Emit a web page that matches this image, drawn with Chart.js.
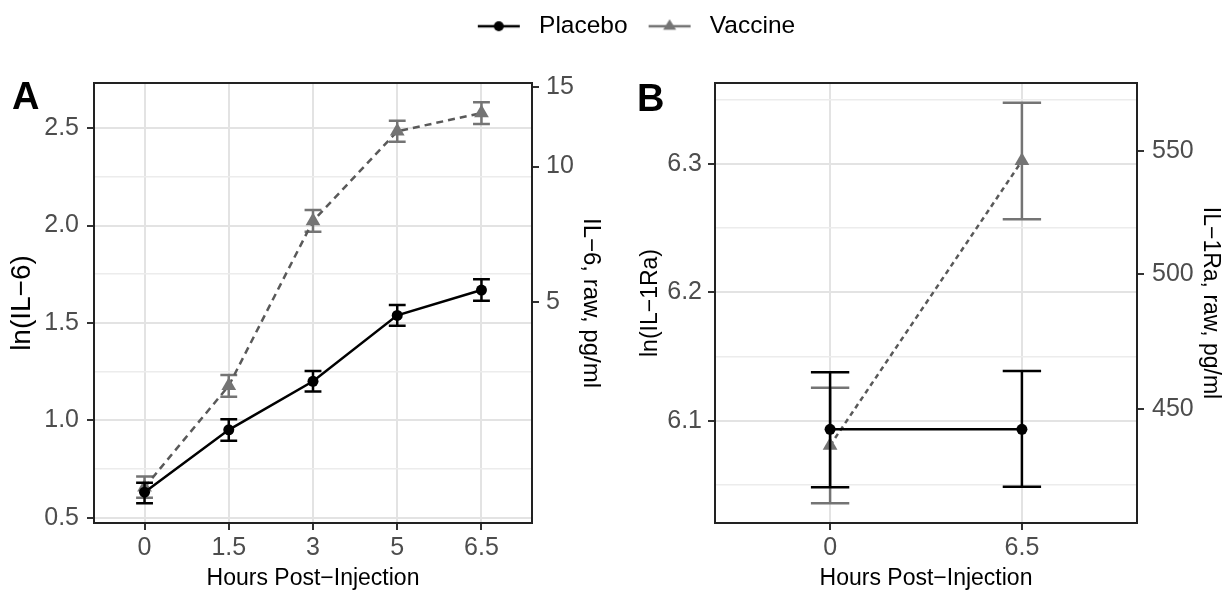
<!DOCTYPE html>
<html>
<head>
<meta charset="utf-8">
<script src="https://cdn.jsdelivr.net/npm/chart.js@4/dist/chart.umd.min.js"></script>
<style>
html,body{margin:0;padding:0;background:#fff;width:1225px;height:590px;overflow:hidden;position:relative;font-family:"Liberation Sans",Arial,sans-serif;}
#wa{position:absolute;left:0;top:0;width:1266px;height:590px;}
#wb{position:absolute;left:620px;top:0;width:605px;height:590px;}
.tag{position:absolute;font-weight:bold;font-size:38px;line-height:38px;color:#000;}
</style>
</head>
<body>
<div id="wa"><canvas id="ca" width="1266" height="590"></canvas></div>
<div id="wb"><canvas id="cb" width="605" height="590"></canvas></div>
<div class="tag" style="left:12px;top:77px">A</div>
<div class="tag" style="left:637px;top:79px">B</div>
<script>
// ---------------- data ----------------
const seriesNames = ['Placebo', 'Vaccine'];

const hoursA = ['0', '1.5', '3', '5', '6.5'];
const placeboA    = [0.632, 0.952, 1.201, 1.539, 1.669];
const placeboA_lo = [0.575, 0.896, 1.148, 1.486, 1.614];
const placeboA_hi = [0.681, 1.006, 1.254, 1.592, 1.724];
const vaccineA    = [0.657, 1.178, 2.023, 2.483, 2.577];
const vaccineA_lo = [0.603, 1.122, 1.968, 2.430, 2.521];
const vaccineA_hi = [0.713, 1.233, 2.079, 2.537, 2.632];

const hoursB = ['0', '6.5'];
const placeboB    = [6.0935, 6.0935];
const placeboB_lo = [6.0484, 6.0489];
const placeboB_hi = [6.1379, 6.1389];
const vaccineB    = [6.0809, 6.3024];
const vaccineB_lo = [6.0359, 6.2570];
const vaccineB_hi = [6.1259, 6.3477];

const yMajorA = [0.5, 1.0, 1.5, 2.0, 2.5];
const yMinorA = [0.75, 1.25, 1.75, 2.25];
const rawTicksA = [5, 10, 15];
const yMajorB = [6.1, 6.2, 6.3];
const yMinorB = [6.05, 6.15, 6.25, 6.35];
const rawTicksB = [450, 500, 550];

// ---------------- styling ----------------
const FONT = '"Liberation Sans", Arial, sans-serif';
Chart.defaults.font.family = FONT;
const GRID = '#E3E3E3', GRIDMINOR = '#ECECEC', TICKC = '#333333', LABC = '#4D4D4D';
const BLACK = '#000000', GRAY = '#747474', GRAYLINE = '#595959';

function pts(vals) { return vals.map((v, i) => ({x: i, y: v})); }
function errPts(lo, hi, half) {
  const out = [];
  lo.forEach((l, i) => {
    const h = hi[i];
    out.push({x: i - half, y: h}, {x: i + half, y: h}, {x: i, y: null},
             {x: i, y: h}, {x: i, y: l}, {x: i, y: null},
             {x: i - half, y: l}, {x: i + half, y: l}, {x: i, y: null});
  });
  return out;
}

function legendKey(kind) {
  const c = document.createElement('canvas');
  c.width = 56; c.height = 24;
  const g = c.getContext('2d');
  g.lineWidth = 2.5;
  g.strokeStyle = kind === 0 ? BLACK : GRAY;
  g.beginPath(); g.moveTo(7, 12); g.lineTo(49, 12); g.stroke();
  g.fillStyle = kind === 0 ? BLACK : GRAY;
  g.beginPath();
  if (kind === 0) { g.arc(28, 12, 5, 0, Math.PI * 2); }
  else { g.moveTo(28, 5); g.lineTo(34.5, 15.5); g.lineTo(21.5, 15.5); g.closePath(); }
  g.fill();
  return c;
}
const keys = [legendKey(0), legendKey(1)];

const panelBorder = {
  id: 'panelBorder',
  afterDatasetsDraw(chart) {
    const {ctx, chartArea: a} = chart;
    ctx.save();
    ctx.strokeStyle = '#222';
    ctx.lineWidth = 2;
    ctx.strokeRect(a.left, a.top, a.right - a.left, a.bottom - a.top);
    ctx.restore();
  }
};
const legendSpace = {
  id: 'legendSpace',
  beforeInit(chart) {
    const orig = chart.legend.fit;
    chart.legend.fit = function () { orig.call(this); this.height = 83; };
  }
};

function panel(cfg) {
  const majors = cfg.yMajor;
  const yTicks = cfg.yMajor.concat(cfg.yMinor).sort((a, b) => a - b);
  const isMajor = v => majors.some(m => Math.abs(m - v) < 1e-9);
  return {
    type: 'scatter',
    data: {
      datasets: [
        {label: seriesNames[0], data: pts(cfg.placebo), showLine: true, borderColor: BLACK, borderWidth: 2.5,
         pointStyle: 'circle', pointRadius: 5.5, pointBackgroundColor: BLACK, pointBorderWidth: 0},
        {label: 'errP', data: errPts(cfg.placeboLo, cfg.placeboHi, 0.1), showLine: true, borderColor: BLACK,
         borderWidth: 2.5, pointRadius: 0},
        {label: seriesNames[1], data: pts(cfg.vaccine), showLine: true, borderColor: GRAYLINE, borderWidth: 2.5,
         borderDash: cfg.dash, pointStyle: 'triangle', pointRadius: 8.5, pointBackgroundColor: GRAY, pointBorderWidth: 0},
        {label: 'errV', data: errPts(cfg.vaccineLo, cfg.vaccineHi, 0.1), showLine: true, borderColor: GRAY,
         borderWidth: 2.5, pointRadius: 0}
      ]
    },
    options: {
      responsive: false,
      devicePixelRatio: 1,
      animation: false,
      events: [],
      layout: {padding: cfg.padding},
      plugins: {
        tooltip: {enabled: false},
        legend: {
          display: cfg.legend,
          position: 'top',
          labels: {
            usePointStyle: true,
            pointStyleWidth: 56,
            padding: 14,
            color: '#000',
            font: {size: 24.5},
            generateLabels: () => seriesNames.map((n, i) => ({
              text: n, pointStyle: keys[i], datasetIndex: i * 2, hidden: false,
              fontColor: '#000', lineWidth: 0, strokeStyle: 'rgba(0,0,0,0)', fillStyle: 'rgba(0,0,0,0)'
            }))
          }
        }
      },
      scales: {
        x: {
          type: 'linear', position: 'bottom', min: -0.6, max: cfg.hours.length - 0.4,
          afterBuildTicks: s => { s.ticks = cfg.hours.map((h, i) => ({value: i})); },
          afterFit: s => { s.height = 67; },
          ticks: {callback: (v, i) => cfg.hours[i], color: LABC, font: {size: 25}, padding: 3, autoSkip: false, maxRotation: 0},
          grid: {color: GRID, lineWidth: 2, tickColor: TICKC, tickLength: 7, tickWidth: 2},
          border: {display: false},
          title: {display: true, text: 'Hours Post−Injection', color: '#000', font: {size: 23, lineHeight: 1}, padding: {top: 0, bottom: 0}}
        },
        y: {
          type: 'linear', position: 'left', min: cfg.yMin, max: cfg.yMax,
          afterBuildTicks: s => { s.ticks = yTicks.map(v => ({value: v})); },
          afterFit: s => { s.width = cfg.leftW; },
          ticks: {callback: v => isMajor(v) ? v.toFixed(1) : '', color: LABC, font: {size: 25}, padding: cfg.leftPad, autoSkip: false},
          grid: {
            color: c => (c.tick && !isMajor(c.tick.value)) ? GRIDMINOR : GRID,
            lineWidth: c => (c.tick && !isMajor(c.tick.value)) ? 1.5 : 2,
            tickColor: c => (c.tick && !isMajor(c.tick.value)) ? 'rgba(0,0,0,0)' : TICKC,
            tickLength: 7, tickWidth: 2
          },
          border: {display: false},
          title: {display: true, text: cfg.yTitle, color: '#000', font: {size: cfg.leftTitleSize, lineHeight: 1}, padding: {top: cfg.leftTitlePad, bottom: 0}}
        },
        y2: {
          type: 'linear', position: 'right', min: cfg.yMin, max: cfg.yMax,
          afterBuildTicks: s => { s.ticks = cfg.rawTicks.map(r => ({value: Math.log(r)})); },
          afterFit: s => { s.width = cfg.rightW; },
          ticks: {callback: (v, i) => String(cfg.rawTicks[i]), color: LABC, font: {size: 25}, padding: cfg.rightPad, autoSkip: false},
          grid: {drawOnChartArea: false, tickColor: TICKC, tickLength: 7, tickWidth: 2, lineWidth: 2},
          border: {display: false},
          title: {display: true, text: cfg.y2Title, color: '#000', font: {size: cfg.rightTitleSize, lineHeight: 1}, padding: {top: cfg.rightTitlePad, bottom: 0}}
        }
      }
    },
    plugins: cfg.legend ? [panelBorder, legendSpace] : [panelBorder]
  };
}

new Chart(document.getElementById('ca'), panel({
  hours: hoursA, placebo: placeboA, placeboLo: placeboA_lo, placeboHi: placeboA_hi,
  vaccine: vaccineA, vaccineLo: vaccineA_lo, vaccineHi: vaccineA_hi,
  yMajor: yMajorA, yMinor: yMinorA, rawTicks: rawTicksA,
  yMin: 0.474, yMax: 2.731, dash: [7, 5],
  yTitle: 'ln(IL−6)', y2Title: 'IL−6, raw, pg/ml',
  leftTitleSize: 28, rightTitleSize: 24,
  leftW: 94, rightW: 734, leftPad: 8, rightPad: 7, leftTitlePad: 8.5, rightTitlePad: 663,
  padding: {top: 0, left: 0, right: 0, bottom: 0}, legend: true
}));

new Chart(document.getElementById('cb'), panel({
  hours: hoursB, placebo: placeboB, placeboLo: placeboB_lo, placeboHi: placeboB_hi,
  vaccine: vaccineB, vaccineLo: vaccineB_lo, vaccineHi: vaccineB_hi,
  yMajor: yMajorB, yMinor: yMinorB, rawTicks: rawTicksB,
  yMin: 6.0206, yMax: 6.363, dash: [5, 4],
  yTitle: 'ln(IL−1Ra)', y2Title: 'IL−1Ra, raw, pg/ml',
  leftTitleSize: 23, rightTitleSize: 23,
  leftW: 95, rightW: 88, leftPad: 6, rightPad: 8, leftTitlePad: 19.5, rightTitlePad: 3.5,
  padding: {top: 83, left: 0, right: 0, bottom: 0}, legend: false
}));
</script>
</body>
</html>
